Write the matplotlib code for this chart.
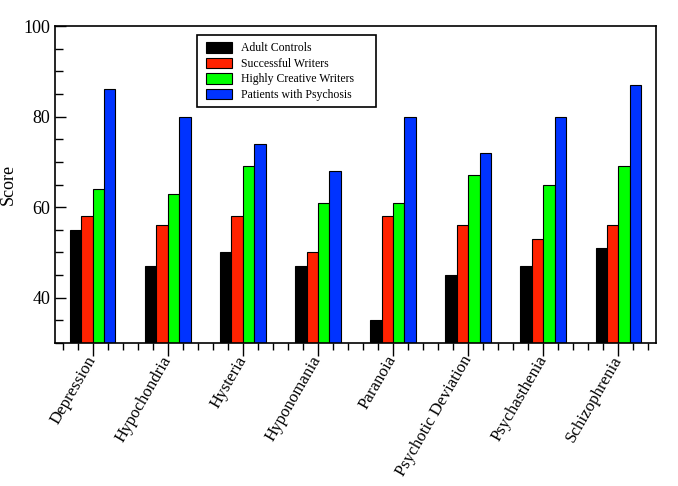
import matplotlib
matplotlib.use("Agg")
import matplotlib.pyplot as plt
import numpy as np
from matplotlib.ticker import MultipleLocator
from matplotlib.patches import Rectangle

categories = ["Depression", "Hypochondria", "Hysteria", "Hyponomania",
              "Paranoia", "Psychotic Deviation", "Psychasthenia", "Schizophrenia"]
series_names = ["Adult Controls", "Successful Writers",
                "Highly Creative Writers", "Patients with Psychosis"]
adult_controls = [55, 47, 50, 47, 35, 45, 47, 51]
successful_writers = [58, 56, 58, 50, 58, 56, 53, 56]
highly_creative = [64, 63, 69, 61, 61, 67, 65, 69]
psychosis = [86, 80, 74, 68, 80, 72, 80, 87]
colors = ["#000000", "#ff2200", "#00ff00", "#0033ff"]

plt.rcParams['font.family'] = ['Liberation Serif', 'DejaVu Serif']

W, H = 678, 486
fig = plt.figure(figsize=(W/100, H/100), dpi=100)
ax = fig.add_axes([55/W, 1-343/H, 601/W, 317/H])

x = np.arange(len(categories))
w = 0.152
all_series = [adult_controls, successful_writers, highly_creative, psychosis]
for i, (vals, name, c) in enumerate(zip(all_series, series_names, colors)):
    ax.bar(x + (i - 1.5) * w, np.array(vals) - 30, bottom=30, width=w,
           color=c, edgecolor="black", linewidth=0.8, label=name)

ax.set_xlim(-0.5, 7.5)
ax.set_ylim(30, 100)
ax.set_xticks(x)
ax.set_xticklabels(categories, rotation=60, ha="right", va="center",
                   rotation_mode="anchor", fontsize=12.2)
ax.xaxis.set_minor_locator(MultipleLocator(0.2))
ax.tick_params(axis="x", which="major", direction="out", length=9, width=1, pad=1)
ax.tick_params(axis="x", which="minor", direction="out", length=5, width=1)
ax.set_yticks([40, 60, 80, 100])
ax.yaxis.set_minor_locator(MultipleLocator(5))
ax.tick_params(axis="y", which="major", direction="in", length=8, width=1,
               labelsize=13, right=False)
ax.tick_params(axis="y", which="minor", direction="in", length=6, width=1,
               right=False)
ax.set_ylabel("Score", fontsize=13, labelpad=5)
for s in ax.spines.values():
    s.set_linewidth(1.2)

# legend frame
frame = Rectangle((197/W, 1-107/H), (376-197)/W, (107-35)/H,
                  transform=fig.transFigure, fill=True, facecolor="white",
                  edgecolor="black", linewidth=1.2, zorder=4.5, clip_on=False)
ax.add_patch(frame)
leg = ax.legend(loc="upper left", bbox_to_anchor=(206/W, 1-42/H),
                bbox_transform=fig.transFigure, fontsize=8.5, frameon=False,
                handlelength=2.2, handleheight=1.0, borderpad=0,
                labelspacing=0.27, handletextpad=0.75, borderaxespad=0)
leg.set_zorder(6)

fig.savefig("out.png", dpi=100)
